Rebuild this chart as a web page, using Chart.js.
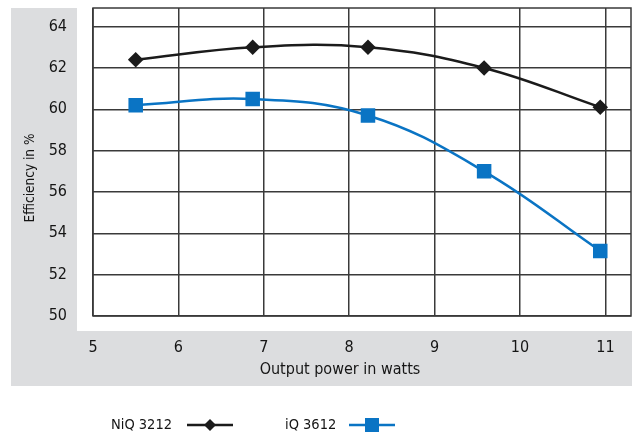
<!DOCTYPE html>
<html>
<head>
<meta charset="utf-8">
<script src="https://cdn.jsdelivr.net/npm/chart.js@4"></script>
<style>
  html, body { margin: 0; padding: 0; background: #fff; }
  #wrap { width: 632px; height: 437px; }
</style>
</head>
<body>
<div id="wrap"><canvas id="chart" width="632" height="437"></canvas></div>
<script>
// data
const powerNiQ = [5.5, 6.87, 8.22, 9.58, 10.94];
const effNiQ = [62.4, 63.0, 63.0, 62.0, 60.1];
const powerIQ = [5.5, 6.87, 8.22, 9.58, 10.94];
const effIQ = [60.2, 60.5, 59.7, 57.0, 53.15];
const seriesNames = ['NiQ 3212', 'iQ 3612'];
const xTitle = 'Output power in watts';
const yTitle = 'Efficiency in %';

const FONT = '"Liberation Sans Narrow", "Arial Narrow", "DejaVu Sans Condensed", sans-serif';
const TEXT = '#151515';
const BLACK = '#1b1b1b';
const BLUE = '#0a74c4';
const GREY = '#dcdddf';

// grey panel, white plot panel, outer frame and axis titles
const backdrop = {
    id: 'backdrop',
    beforeDraw(chart) {
        const { ctx, chartArea: a } = chart;
        ctx.save();
        ctx.fillStyle = GREY;
        ctx.fillRect(11, 8, 621, 378);
        ctx.fillStyle = '#fff';
        ctx.fillRect(77, 8, 555, a.bottom + 15 - 8);
        ctx.restore();
    },
    beforeDatasetsDraw(chart) {
        const { ctx, chartArea: a } = chart;
        ctx.save();
        ctx.strokeStyle = '#3a3a3a';
        ctx.lineWidth = 1.5;
        ctx.strokeRect(a.left, a.top, a.right - a.left, a.bottom - a.top);
        ctx.restore();
    },
    afterDraw(chart) {
        const ctx = chart.ctx;
        ctx.save();
        ctx.fillStyle = TEXT;
        ctx.textAlign = 'center';
        ctx.textBaseline = 'middle';
        ctx.font = '16px ' + FONT;
        ctx.fillText(xTitle, 340, 370);
        ctx.translate(30, 178);
        ctx.rotate(-Math.PI / 2);
        ctx.font = '13.5px ' + FONT;
        ctx.fillText(yTitle, 0, 0);
        ctx.restore();
    }
};

// legend: text then line with marker
const lineLegend = {
    id: 'lineLegend',
    afterDraw(chart) {
        const ctx = chart.ctx;
        const y = 425;
        const items = [
            { text: seriesNames[0], tx: 111, x1: 187, x2: 233, color: BLACK, shape: 'diamond' },
            { text: seriesNames[1], tx: 285, x1: 349, x2: 395, color: BLUE, shape: 'square' }
        ];
        ctx.save();
        ctx.font = '14.5px ' + FONT;
        ctx.textBaseline = 'middle';
        items.forEach(it => {
            ctx.fillStyle = TEXT;
            ctx.fillText(it.text, it.tx, y);
            ctx.strokeStyle = it.color;
            ctx.lineWidth = 2.5;
            ctx.beginPath();
            ctx.moveTo(it.x1, y);
            ctx.lineTo(it.x2, y);
            ctx.stroke();
            ctx.fillStyle = it.color;
            const cx = (it.x1 + it.x2) / 2;
            ctx.beginPath();
            if (it.shape === 'diamond') {
                ctx.moveTo(cx, y - 6);
                ctx.lineTo(cx + 6, y);
                ctx.lineTo(cx, y + 6);
                ctx.lineTo(cx - 6, y);
                ctx.closePath();
            } else {
                ctx.rect(cx - 7, y - 7, 14, 14);
            }
            ctx.fill();
        });
        ctx.restore();
    }
};

new Chart(document.getElementById('chart').getContext('2d'), {
    type: 'line',
    data: {
        datasets: [
            {
                label: seriesNames[0],
                data: powerNiQ.map((x, i) => ({ x: x, y: effNiQ[i] })),
                borderColor: BLACK,
                backgroundColor: BLACK,
                borderWidth: 2.5,
                pointStyle: 'rectRot',
                pointRadius: 6,
                pointHoverRadius: 6,
                tension: 0.4
            },
            {
                label: seriesNames[1],
                data: powerIQ.map((x, i) => ({ x: x, y: effIQ[i] })),
                borderColor: BLUE,
                backgroundColor: BLUE,
                borderWidth: 2.5,
                pointStyle: 'rect',
                pointRadius: 8.5,
                pointHoverRadius: 8.5,
                tension: 0.4
            }
        ]
    },
    options: {
        responsive: false,
        animation: false,
        layout: { autoPadding: false, padding: { left: 11, top: 8, right: 1, bottom: 51 } },
        plugins: {
            legend: { display: false },
            tooltip: { enabled: false }
        },
        scales: {
            x: {
                type: 'linear',
                min: 5,
                max: 11.3,
                afterFit(scale) {
                    scale.height = 70;
                    scale.paddingLeft = 0;
                    scale.paddingRight = 0;
                },
                ticks: {
                    stepSize: 1,
                    includeBounds: false,
                    padding: 22,
                    color: TEXT,
                    font: { family: FONT, size: 16 }
                },
                grid: { color: '#3a3a3a', lineWidth: 1.5, drawTicks: false },
                border: { display: false }
            },
            y: {
                min: 50,
                max: 64.9,
                afterFit(scale) {
                    scale.width = 82;
                    scale.paddingTop = 0;
                    scale.paddingBottom = 0;
                },
                ticks: {
                    stepSize: 2,
                    includeBounds: false,
                    padding: 26,
                    color: TEXT,
                    font: { family: FONT, size: 16 }
                },
                grid: { color: '#3a3a3a', lineWidth: 1.5, drawTicks: false },
                border: { display: false }
            }
        }
    },
    plugins: [backdrop, lineLegend]
});
</script>
</body>
</html>
